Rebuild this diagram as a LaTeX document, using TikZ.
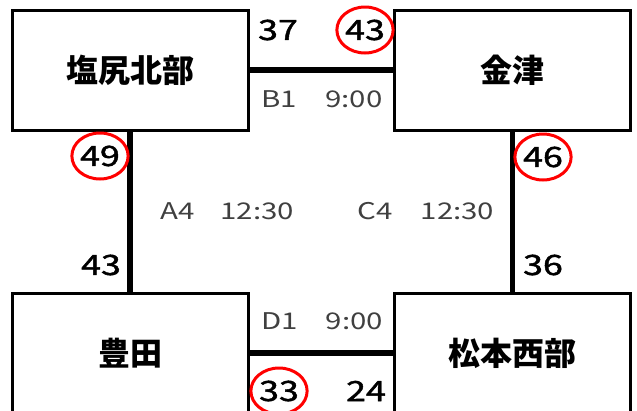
\documentclass[tikz,border=0pt]{standalone}
\usepackage{fontspec}
\setmainfont{Noto Sans CJK JP}
\newfontfamily\jpfont{Noto Sans CJK JP}
\newfontfamily\numfont[FakeStretch=1.28,FakeBold=1.6]{Noto Sans CJK JP}
\newfontfamily\lblfont[FakeStretch=1.28]{Noto Sans CJK JP}
\usetikzlibrary{shapes.geometric}
\tikzset{
  station/.style={draw, line width=3pt, minimum width=236pt, minimum height=120pt, inner sep=0pt,
    font=\jpfont\bfseries\fontsize{32}{32}\selectfont},
  conn/.style={line width=5.5pt},
  num/.style={font=\numfont\fontsize{28}{28}\selectfont, inner sep=0pt},
  ring/.style={num, draw=red, line width=3pt, ellipse, minimum width=52pt, minimum height=46pt},
  lbl/.style={font=\lblfont\fontsize{23}{23}\selectfont, text=black!75, inner sep=0pt}
}
\begin{document}
\begin{tikzpicture}[x=1pt,y=-1pt]
\useasboundingbox (0,0) rectangle (637,410);
\clip (0,0) rectangle (637,410);
\node[station] (sh) at (130,70) {塩尻北部};
\node[station] (kz) at (512.5,70) {金津};
\node[station] (ty) at (130,353) {豊田};
\node[station] (mm) at (512.5,353) {松本西部};
\draw[conn] (sh.east) -- (kz.west);
\draw[conn] (sh.south) -- (ty.north);
\draw[conn] (kz.south) -- (mm.north);
\draw[conn] (ty.east) -- (mm.west);
\node[num] (n37) at (278,30) {37};
\node[ring] (r43) at (365,30) {43};
\node[lbl] (b1) at (322,99) {B1\hspace{28pt}9:00};
\node[ring] (r49) at (100,156) {49};
\node[num] (n43) at (101,265) {43};
\node[lbl] (a4) at (227,211) {A4\hspace{26pt}12:30};
\node[lbl] (c4) at (426,211) {C4\hspace{28pt}12:30};
\node[ring] (r46) at (543,157) {46};
\node[num] (n36) at (543,265) {36};
\node[lbl] (d1) at (322,321) {D1\hspace{28pt}9:00};
\node[ring] (r33) at (279,391) {33};
\node[num] (n24) at (366,391) {24};
\end{tikzpicture}
\end{document}
